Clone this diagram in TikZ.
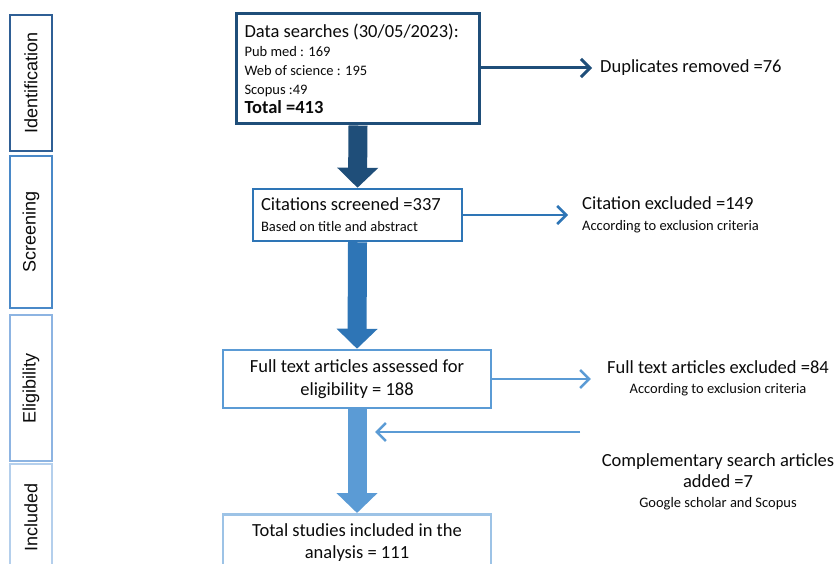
\documentclass[tikz,border=0pt]{standalone}
\usepackage{fontspec}
\setmainfont{Carlito}
\newfontfamily\sidefont{Liberation Sans}
\usetikzlibrary{arrows.meta,positioning,calc}
\definecolor{navy1}{HTML}{1F4E79}
\definecolor{blue2}{HTML}{2E75B6}
\definecolor{blue3}{HTML}{5B9BD5}
\definecolor{blue4}{HTML}{9DC3E6}
\definecolor{side1}{HTML}{2F5F95}
\definecolor{side2}{HTML}{4A89C8}
\definecolor{side3}{HTML}{8DB4E2}
\definecolor{side4}{HTML}{B4CFEC}
\definecolor{ink}{HTML}{0B0B0B}
\newcommand{\bigtxt}{\fontsize{18.5}{19}\selectfont}
\newcommand{\smalltxt}{\fontsize{14.5}{19}\selectfont}

\begin{document}
\begin{tikzpicture}[x=1pt,y=-1pt,text=ink,
  phasebox/.style={draw,line width=1.3pt,rotate=90,minimum height=42pt,inner sep=0pt,font=\sidefont\fontsize{18}{19}\selectfont},
  stagebox/.style={draw,fill=white,line width=2.5pt,inner sep=0pt,font=\bigtxt},
  outtext/.style={inner sep=0pt,font=\bigtxt},
  thinarrow/.style={line width=2.5pt,-{Straight Barb[length=9pt,width=18pt]}},
  bigarrow/.style={line width=19pt,-{Triangle[length=20pt,width=40pt]}}]
  \useasboundingbox (0,0) rectangle (837,564);
  % phase labels down the left side
  \node[phasebox,draw=side1,minimum width=136pt] (idf) at (31,83) {Identification};
  \node[phasebox,draw=side2,minimum width=152pt] (scr) at (31,232) {Screening};
  \node[phasebox,draw=side3,minimum width=146pt] (elg) at (31,388) {Eligibility};
  \node[phasebox,draw=side4,minimum width=106pt] (inc) at (31,517) {Included};
  % main flow
  \node[stagebox,draw=navy1,line width=3pt,minimum width=243pt,minimum height=110pt,text width=227pt,align=flush left] (search) at (358,69)
    {Data searches (30/05/2023):\\ {\smalltxt Pub med : 169}\\ {\smalltxt Web of science : 195}\\ {\smalltxt Scopus :49}\\ {\bfseries Total =413}};
  \node[stagebox,draw=blue2,minimum width=209pt,minimum height=52pt,text width=193pt,align=flush left] (screen) at (357.5,215)
    {Citations screened =337\\[2pt] {\smalltxt Based on title and abstract}};
  \node[stagebox,draw=blue3,minimum width=268pt,minimum height=58pt,align=center] (full) at (357,379)
    {Full text articles assessed for\\[4pt] eligibility = 188};
  \node[stagebox,draw=blue4,minimum width=268pt,minimum height=60pt,anchor=north,align=center] (total) at (357,513) {};
  \node[outtext,align=center,anchor=north] (totaltxt) at (357,523)
    {Total studies included in the\\[3pt] analysis = 111};
  % side outcomes
  \node[outtext,anchor=west] (dup) at (600,68) {Duplicates removed =76};
  \node[outtext,anchor=west,align=left] (excl1) at (582,215)
    {Citation excluded =149\\[2pt] {\smalltxt According to exclusion criteria}};
  \node[outtext,align=center] (excl2) at (718,378)
    {Full text articles excluded =84\\[1pt] {\smalltxt According to exclusion criteria}};
  \node[outtext,align=center] (comp) at (718,482)
    {Complementary search articles\\[2pt] added =7\\[1pt] {\smalltxt Google scholar and Scopus}};
  \coordinate (addout) at (580,432);
  \coordinate (addin) at (375,432);
  % connectors
  \draw[bigarrow,navy1] (search.south) -- (screen.north);
  \draw[bigarrow,blue2] (screen.south) -- (full.north);
  \draw[bigarrow,blue3] (full.south) -- (total.north);
  \draw[thinarrow,navy1,line width=3pt] (search.east |- dup.west) -- ([xshift=-8pt]dup.west);
  \draw[thinarrow,blue2] (screen.east) -- ([xshift=-14pt]screen.east -| excl1.west);
  \draw[thinarrow,blue3] (full.east) -- ([xshift=-16pt]full.east -| excl2.west);
  \draw[thinarrow,blue3] (addout) -- (addin);
\end{tikzpicture}
\end{document}
